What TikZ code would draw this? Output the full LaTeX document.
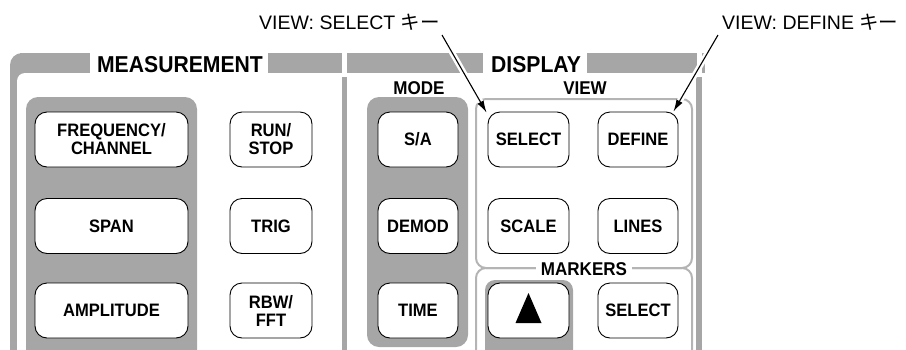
\documentclass[tikz,border=0pt]{standalone}
\usepackage{fontspec}
\usetikzlibrary{arrows.meta,calc}
\newfontfamily\btnfont{Liberation Sans}[FakeStretch=0.92]
\newfontfamily\lblfont{Liberation Sans}
\newfontfamily\cjkfont{Noto Sans CJK JP}
\definecolor{panel}{HTML}{A6A6A6}
\definecolor{framec}{HTML}{B4B4B4}
\begin{document}
\begin{tikzpicture}[x=1pt,y=-1pt,
  btn/.style={draw=black, line width=0.9pt, fill=white, rounded corners=12pt,
    minimum height=55pt, inner sep=0pt, align=center,
    font=\btnfont\bfseries\fontsize{18}{18}\selectfont},
  titletext/.style={font=\btnfont\bfseries\fontsize{23}{23}\selectfont, inner sep=0pt},
  subtext/.style={font=\btnfont\bfseries\fontsize{18.5}{18}\selectfont, inner sep=0pt},
  callout/.style={font=\lblfont\fontsize{19.5}{20}\selectfont, inner sep=0pt},
  groupframe/.style={draw=framec, line width=2pt, rounded corners=10pt},
  callarrow/.style={line width=1.1pt, -{Latex[length=12pt,width=7pt]},
    preaction={draw=white, line width=6pt, -, shorten >=12pt}}
]
\useasboundingbox (0,0) rectangle (906,349);

\begin{scope}
\clip (0,0) rectangle (906,349);
% outer panel structure
\fill[panel, rounded corners=12pt] (10,53) rectangle (40,420);
\fill[panel] (20,53) rectangle (342,73);
\fill[panel] (347,53) rectangle (697,73);
\fill[panel] (702,53) rectangle (705,73);
\fill[white, rounded corners=8pt] (17,73) rectangle (60,420);
\fill[panel] (342,77) rectangle (347,420);
\fill[panel] (696,77) rectangle (702,420);
% title gaps
\fill[white] (90,53) rectangle (268,73);
\fill[white] (483,53) rectangle (587,73);
% grey groups
\fill[panel, rounded corners=12pt] (26,97) rectangle (197,420);
\fill[panel, rounded corners=12pt] (367,97) rectangle (468,347);
% frames
\draw[groupframe] (476,99) rectangle (692,268);
\draw[groupframe] (476,268) rectangle (692,420);
\fill[panel, rounded corners=10pt] (485,280) rectangle (573,420);
\end{scope}

% titles
\node[titletext, anchor=base] (tmeas) at (180,72) {MEASUREMENT};
\node[titletext, anchor=base] (tdisp) at (536,72) {DISPLAY};
\node[subtext, anchor=base] (tmode) at (419,94.5) {MODE};
\node[subtext, anchor=base] (tview) at (585,94.5) {VIEW};
\node[subtext, anchor=base, fill=white, inner xsep=5pt, inner ysep=1pt] (tmark) at (584,275) {MARKERS};

% measurement buttons
\node[btn, minimum width=153pt] (freq) at (111.5,139.5) {FREQUENCY/\\CHANNEL};
\node[btn, minimum width=153pt] (span) at (111.5,226) {SPAN};
\node[btn, minimum width=153pt] (ampl) at (111.5,310.5) {AMPLITUDE};
\node[btn, minimum width=82pt] (run) at (271,139.5) {RUN/\\STOP};
\node[btn, minimum width=82pt] (trig) at (271,226) {TRIG};
\node[btn, minimum width=82pt] (rbw) at (271,310.5) {RBW/\\FFT};
% mode buttons
\node[btn, minimum width=80pt] (sa) at (418,139.5) {S/A};
\node[btn, minimum width=80pt] (demod) at (418,226) {DEMOD};
\node[btn, minimum width=80pt] (time) at (418,310.5) {TIME};
% view buttons
\node[btn, minimum width=81pt] (vsel) at (528.5,139.5) {SELECT};
\node[btn, minimum width=80pt] (vdef) at (638,139.5) {DEFINE};
\node[btn, minimum width=81pt] (scale) at (528.5,226) {SCALE};
\node[btn, minimum width=80pt] (lines) at (638,226) {LINES};
% marker buttons
\node[btn, minimum width=81pt] (mark) at (528.5,310.5) {};
\node[btn, minimum width=80pt] (msel) at (638,310.5) {SELECT};
\fill ($(mark.center)+(-13,12.5)$) -- ($(mark.center)+(13,12.5)$) -- ($(mark.center)+(0,-17.5)$) -- cycle;

% callouts
\node[callout, anchor=base west] (lsel) at (259,29) {VIEW: SELECT {\cjkfont キー}};
\node[callout, anchor=base west] (ldef) at (722,29) {VIEW: DEFINE {\cjkfont キー}};
\coordinate (s1) at (442,35);
\coordinate (s2) at (718,35);
\draw[callarrow] (s1) -- ($(vsel.north west)+(-1,1)$);
\draw[callarrow] (s2) -- ($(vdef.north east)+(-5,0)$);
\end{tikzpicture}
\end{document}
